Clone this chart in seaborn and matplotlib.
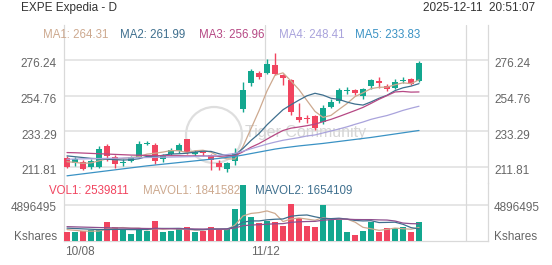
import numpy as np
import pandas as pd
import matplotlib
matplotlib.use("Agg")
import matplotlib.pyplot as plt
import seaborn as sns
from matplotlib.transforms import ScaledTranslation
from matplotlib.patches import Circle

# ---------------- data ----------------
opens = [217.3, 214.4, 215.1, 212.1, 212.1, 224.5, 218.1, 214.4, 215.5, 218.1,
         225.8, 225.1, 216.5, 219.5, 221.5, 228.5, 219.5, 220.4, 219.1, 214.1,
         210.6, 215.5, 246.6, 262.6, 268.6, 268.6, 273.2, 267.2, 264.2, 242.1,
         241.2, 242.5, 239.1, 248.2, 251.7, 257.5, 258.2, 254.6, 260.4, 263.8,
         260.6, 259.2, 263.8, 264.6, 263.8]
closes = [211.9, 216.7, 210.5, 215.5, 222.7, 218.5, 213.5, 215.0, 217.7, 225.5,
          226.4, 215.7, 218.7, 222.1, 225.1, 221.1, 221.1, 220.0, 216.1, 212.1,
          214.1, 220.5, 258.2, 269.8, 265.8, 273.8, 267.8, 265.2, 245.2, 240.1,
          240.6, 235.2, 247.2, 251.2, 258.2, 258.2, 256.2, 258.6, 264.0, 262.2,
          258.6, 263.2, 264.4, 261.6, 274.2]
highs = [218.5, 217.9, 216.0, 216.7, 224.5, 225.7, 219.0, 216.5, 218.5, 227.3,
         227.6, 226.1, 219.5, 223.0, 226.1, 228.8, 222.1, 221.5, 219.5, 216.1,
         215.0, 223.0, 263.0, 270.8, 269.5, 276.9, 280.3, 268.0, 264.5, 250.2,
         243.2, 243.2, 249.2, 252.5, 259.2, 260.0, 258.8, 259.5, 265.0, 266.0,
         261.5, 264.5, 265.8, 265.5, 275.8]
lows = [211.2, 212.5, 210.0, 210.7, 211.5, 215.7, 211.0, 212.5, 215.0, 217.5,
        224.9, 213.7, 215.0, 219.0, 220.5, 219.5, 218.5, 218.5, 210.0, 210.1,
        208.5, 213.0, 245.2, 260.5, 264.8, 267.8, 267.2, 261.0, 243.2, 239.1,
        238.5, 234.1, 238.0, 247.2, 250.5, 256.0, 255.0, 253.0, 259.0, 259.5,
        257.5, 258.5, 262.5, 261.0, 263.0]
volumes = [1183000, 1265000, 1360000, 1496000, 1496000, 2543000, 1945000, 1632000, 993000, 1632000,
           1360000, 2720000, 1265000, 1401000, 1591000, 1945000, 1265000, 1360000, 1863000, 1632000,
           1632000, 4352000, 7617000, 3305000, 2407000, 2761000, 2652000, 2081000, 4992000, 3088000,
           2081000, 1863000, 4897000, 2856000, 3088000, 1183000, 816000, 1360000, 2625000, 1265000,
           1809000, 1727000, 1945000, 1265000, 2539811]

ma1 = [215.0, 214.6, 214.0, 214.3, 215.5, 216.8, 216.1, 217.0, 217.5, 218.0,
       219.6, 220.1, 220.8, 221.7, 221.6, 220.5, 221.6, 221.9, 220.7, 218.1,
       216.7, 216.6, 224.2, 234.9, 245.7, 257.6, 267.1, 268.5, 263.6, 258.4,
       251.8, 245.3, 241.7, 242.9, 246.5, 250.0, 254.2, 256.5, 259.0, 259.8,
       259.9, 261.3, 262.5, 262.0, 264.3]
ma2 = [218.5, 218.0, 217.5, 217.0, 216.8, 216.5, 216.2, 216.0, 216.2, 216.8,
       218.2, 218.1, 218.9, 219.6, 219.8, 220.1, 220.8, 221.3, 221.2, 219.8,
       218.6, 219.1, 223.0, 227.8, 231.9, 237.2, 241.8, 246.3, 249.3, 252.1,
       254.7, 256.2, 255.1, 253.2, 252.5, 250.9, 249.7, 249.1, 251.0, 253.2,
       255.0, 257.8, 259.5, 260.5, 262.0]
ma3 = [220.5, 220.4, 220.2, 220.0, 219.8, 219.6, 219.4, 219.2, 219.0, 218.9,
       218.8, 218.7, 218.6, 218.6, 218.6, 218.5, 218.5, 218.5, 218.4, 218.3,
       218.4, 218.6, 221.0, 223.7, 225.9, 228.6, 231.3, 233.8, 235.2, 235.9,
       236.7, 237.6, 239.1, 240.5, 242.2, 244.0, 245.8, 247.7, 250.1, 252.6,
       254.8, 257.0, 257.3, 256.9, 257.0]
ma4 = [216.5, 216.6, 216.7, 216.8, 216.9, 217.0, 217.1, 217.2, 217.3, 217.4,
       217.5, 217.6, 217.7, 217.8, 217.9, 218.0, 218.1, 218.3, 218.5, 218.8,
       219.3, 220.0, 221.3, 222.8, 224.2, 225.6, 226.8, 227.9, 228.7, 229.5,
       230.5, 231.1, 232.3, 233.5, 234.7, 236.0, 237.5, 238.9, 240.5, 241.7,
       242.8, 244.3, 245.9, 247.2, 248.4]
ma5 = [206.5, 207.1, 207.7, 208.3, 208.9, 209.5, 210.1, 210.7, 211.3, 211.9,
       212.5, 213.0, 213.5, 214.0, 214.5, 215.0, 215.5, 216.0, 216.5, 217.0,
       217.6, 218.2, 219.0, 219.9, 220.8, 221.7, 222.6, 223.3, 223.9, 224.5,
       225.0, 225.5, 226.0, 226.6, 227.2, 227.8, 228.4, 229.0, 229.6, 230.3,
       231.0, 231.7, 232.4, 233.1, 233.8]

mavol1 = [1.55, 1.45, 1.35, 1.33, 1.36, 1.63, 1.77, 1.83, 1.72, 1.75,
          1.51, 1.67, 1.60, 1.68, 1.63, 1.58, 1.49, 1.51, 1.61, 1.61,
          1.55, 2.17, 3.41, 3.75, 3.86, 4.09, 3.75, 2.64, 2.99, 3.13,
          2.98, 2.82, 3.18, 2.95, 2.94, 2.98, 2.57, 1.86, 1.67, 1.45,
          1.58, 1.76, 1.67, 1.60, 1.84]
mavol2 = [1.75, 1.70, 1.65, 1.60, 1.55, 1.55, 1.58, 1.58, 1.55, 1.55,
          1.57, 1.72, 1.71, 1.71, 1.72, 1.66, 1.54, 1.54, 1.63, 1.63,
          1.66, 1.93, 2.56, 2.73, 2.73, 2.88, 2.96, 3.00, 3.37, 3.49,
          3.54, 3.29, 3.08, 3.04, 3.10, 2.98, 2.80, 2.73, 2.76, 2.51,
          2.53, 2.56, 2.27, 1.82, 1.65]
mavol3 = [1.95, 1.92, 1.89, 1.86, 1.83, 1.80, 1.78, 1.76, 1.74, 1.72,
          1.70, 1.69, 1.68, 1.67, 1.66, 1.65, 1.64, 1.63, 1.63, 1.62,
          1.62, 1.77, 2.08, 2.17, 2.22, 2.28, 2.34, 2.36, 2.54, 2.61,
          2.65, 2.67, 2.83, 2.90, 2.99, 2.97, 2.92, 2.91, 2.91, 2.87,
          2.85, 2.72, 2.44, 2.36, 2.34]   # millions

price_ticks = [211.81, 233.29, 254.76, 276.24]
vol_tick = 4896495
ma_names = ["MA1", "MA2", "MA3", "MA4", "MA5"]
ma_legend_values = ["264.31", "261.99", "256.96", "248.41", "233.83"]
vol_legend = ["VOL1: 2539811", "MAVOL1: 1841582", "MAVOL2: 1654109"]
date_labels = ["10/08", "11/12"]
title = "EXPE Expedia - D"
timestamp = "2025-12-11  20:51:07"
watermark = "Tiger Community"

# ---------------- style ----------------
sns.set_style("white")
plt.rcParams["font.family"] = ["Liberation Sans", "DejaVu Sans"]

RED = "#f1445f"
TEAL = "#13a78f"
MA_COLORS = ["#cda98f", "#3e6f8e", "#b64884", "#a9a3dc", "#3a92c4"]
VOLMA_COLORS = ["#cda98f", "#3e6f8e", "#8e4f8e"]
GRID = "#e6e6e6"
FRAME = "#d9d9d9"
TXT = "#666666"

W, H = 552, 265
fig = plt.figure(figsize=(W / 100, H / 100), dpi=100)
fig.patch.set_facecolor("white")

L, R = 64, 488
TOP, MID, BOT = 25, 183, 241

def fx(x):
    return x / W

def fy(y):
    return 1 - y / H

axp = fig.add_axes([fx(L), fy(MID), (R - L) / W, (MID - TOP) / H])
axv = fig.add_axes([fx(L), fy(BOT), (R - L) / W, (BOT - MID) / H])
for a in (axp, axv):
    a.set_facecolor("none")

n = len(opens)
idx = np.arange(n)
o = np.array(opens); c = np.array(closes)
hi = np.array(highs); lo = np.array(lows)
up = c >= o
cols = np.where(up, TEAL, RED)

# x scale: candle i center at 67 + 8 i px
x0 = (L - 67) / 8
x1 = (R - 67) / 8

# price y scale
pxu = (167 - 60) / (price_ticks[-1] - price_ticks[0])
def p_at(y):
    return price_ticks[-1] - (y - 60) / pxu
axp.set_ylim(p_at(MID), p_at(TOP))

# gridlines
for v in price_ticks:
    axp.axhline(v, color=GRID, lw=1.4, zorder=0)
axv.axhline(vol_tick, color=GRID, lw=1.4, zorder=0)

# vertical grid / frame
for a in (axp, axv):
    for xv in (24.75, 49.875):
        a.axvline(xv, color=FRAME, lw=0.9, zorder=0)

# watermark
axp.add_patch(Circle((2.14, (H - 135) / 100), 0.28, transform=fig.dpi_scale_trans,
                     fill=False, ec="#dedede", lw=1.6, zorder=1, clip_on=False))
axp.text(fx(245), fy(133), watermark, transform=fig.transFigure, fontsize=11.5,
         color="#d6d6d6", ha="left", va="center", zorder=1)

# candles
axp.vlines(idx, lo, hi, colors=cols, lw=1.0, zorder=3)
body_bottom = np.minimum(o, c)
body_h = np.maximum(np.abs(c - o), 0.6)
axp.bar(idx, body_h, bottom=body_bottom, width=0.75, color=cols, linewidth=0, zorder=4)

# moving averages
ma_df = pd.DataFrame({
    "idx": np.tile(idx, 5),
    "value": np.concatenate([ma1, ma2, ma3, ma4, ma5]),
    "ma": np.repeat(ma_names, n),
})
sns.lineplot(data=ma_df, x="idx", y="value", hue="ma", palette=dict(zip(ma_names, MA_COLORS)),
             lw=0.9, legend=False, ax=axp, zorder=5, sort=False)

axp.set_xlim(x0, x1)
axp.set_xticks([]); axp.set_yticks([])
axp.set_xlabel(""); axp.set_ylabel("")
for s in ("top", "bottom"):
    axp.spines[s].set_visible(False)
for s in ("left", "right"):
    axp.spines[s].set_color(FRAME); axp.spines[s].set_linewidth(0.9)

# volume bars
vol_df = pd.DataFrame({"idx": idx, "vol": volumes, "dir": np.where(up, "up", "down")})
sns.barplot(data=vol_df, x="idx", y="vol", hue="dir", palette={"up": TEAL, "down": RED},
            dodge=False, width=0.75, saturation=1, errorbar=None, legend=False, ax=axv,
            linewidth=0, zorder=3)
vm_df = pd.DataFrame({
    "idx": np.tile(idx, 3),
    "value": np.concatenate([mavol1, mavol2, mavol3]) * 1e6,
    "m": np.repeat(["MAVOL1", "MAVOL2", "MAVOL3"], n),
})
sns.lineplot(data=vm_df, x="idx", y="value", hue="m",
             palette=dict(zip(["MAVOL1", "MAVOL2", "MAVOL3"], VOLMA_COLORS)),
             lw=0.9, legend=False, ax=axv, zorder=5, sort=False)
axv.set_ylim(0, vol_tick * (BOT - MID) / (BOT - 205))
axv.set_xlim(x0, x1)
axv.set_xticks([]); axv.set_yticks([])
axv.set_xlabel(""); axv.set_ylabel("")
axv.spines["top"].set_visible(False)
for s in ("left", "right", "bottom"):
    axv.spines[s].set_color(FRAME); axv.spines[s].set_linewidth(0.9)

# axis labels (text)
FS = 8.5
def side_labels(ax, val, txt, dy):
    tl = ax.get_yaxis_transform() + ScaledTranslation(-7 / 100, dy / 100, fig.dpi_scale_trans)
    tr = ax.get_yaxis_transform() + ScaledTranslation(6 / 100, dy / 100, fig.dpi_scale_trans)
    ax.text(0, val, txt, transform=tl, ha="right", va="center", fontsize=FS, color=TXT, clip_on=False)
    ax.text(1, val, txt, transform=tr, ha="left", va="center", fontsize=FS, color=TXT, clip_on=False)

for v in price_ticks:
    side_labels(axp, v, f"{v:.2f}", -4.5)
side_labels(axv, vol_tick, str(vol_tick), -3)
side_labels(axv, 0, "Kshares", 4)

# dates
fig.text(fx(65), fy(252), date_labels[0], ha="left", va="center", fontsize=FS, color=TXT)
fig.text(fx(265), fy(252), date_labels[1], ha="center", va="center", fontsize=FS, color=TXT)

# title row
fig.text(fx(20.7), fy(8), title, ha="left", va="center", fontsize=8.5, color="#333333")
fig.text(fx(535), fy(8), timestamp, ha="right", va="center", fontsize=8.5, color="#333333")

# MA legend
ma_x = [42.7, 120, 199, 279, 355]
for name, val, col, xx in zip(ma_names, ma_legend_values, MA_COLORS, ma_x):
    fig.text(fx(xx), fy(34.5), f"{name}: {val}", ha="left", va="center", fontsize=8.3, color=col)

# volume legend
vl_x = [49, 143, 255]
for txt, col, xx in zip(vol_legend, [RED, VOLMA_COLORS[0], VOLMA_COLORS[1]], vl_x):
    fig.text(fx(xx), fy(190.5), txt, ha="left", va="center", fontsize=8.3, color=col)

fig.savefig("out.png", dpi=100, facecolor="white")
